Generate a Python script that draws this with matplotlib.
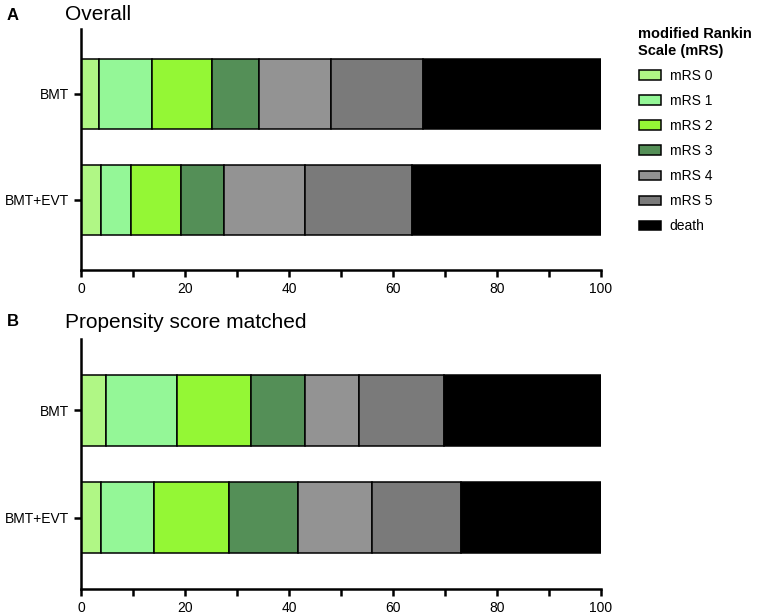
import matplotlib
matplotlib.use("Agg")
import matplotlib.pyplot as plt
from matplotlib.patches import Patch

plt.rcParams["font.family"] = ["Liberation Sans", "DejaVu Sans"]

GROUPS = ["BMT", "BMT+EVT"]
CATEGORIES = ["mRS 0", "mRS 1", "mRS 2", "mRS 3", "mRS 4", "mRS 5", "death"]
COLORS = ["#b0f785", "#94f797", "#94f735", "#548f57", "#939393", "#7a7a7a", "#000000"]

# percentages per mRS category
overall_bmt = [3.4, 10.2, 11.5, 9.2, 13.8, 17.7, 34.2]
overall_evt = [3.9, 5.8, 9.6, 8.2, 15.5, 20.7, 36.3]
matched_bmt = [4.9, 13.5, 14.3, 10.3, 10.4, 16.4, 30.2]
matched_evt = [3.9, 10.2, 14.3, 13.3, 14.2, 17.2, 26.9]

W, H = 765, 615
fig = plt.figure(figsize=(W / 100, H / 100), dpi=100)


def panel(rect, rows, ylim):
    ax = fig.add_axes(rect)
    ypos = [1, 0]
    for y, vals in zip(ypos, rows):
        left = 0
        for v, c in zip(vals, COLORS):
            ax.barh(y, v, left=left, height=0.66, color=c,
                    edgecolor="black", linewidth=1.1)
            left += v
    ax.set_xlim(0, 100)
    ax.set_ylim(*ylim)
    ax.set_yticks(ypos)
    ax.set_yticklabels(GROUPS, fontsize=10)
    ax.set_xticks(range(0, 101, 20))
    ax.set_xticks(range(10, 100, 20), minor=True)
    ax.tick_params(axis="x", labelsize=10, width=1.8, length=5, which="both")
    ax.tick_params(axis="y", width=1.8, length=5)
    for s in ["top", "right"]:
        ax.spines[s].set_visible(False)
    for s in ["left", "bottom"]:
        ax.spines[s].set_linewidth(1.8)
    return ax


panel([81 / W, 1 - 270 / H, 520 / W, 241 / H], [overall_bmt, overall_evt], (-0.66, 1.61))
panel([81 / W, 1 - 589 / H, 520 / W, 250 / H], [matched_bmt, matched_evt], (-0.66, 1.66))

fig.text(7 / W, 1 - 15 / H, "A", fontsize=12, fontweight="bold", va="center")
fig.text(65 / W, 1 - 15 / H, "Overall", fontsize=15, va="center")
fig.text(7 / W, 1 - 322 / H, "B", fontsize=12, fontweight="bold", va="center")
fig.text(65 / W, 1 - 322 / H, "Propensity score matched", fontsize=15, va="center")

handles = [Patch(facecolor=c, edgecolor="black", linewidth=1.1) for c in COLORS]
leg = fig.legend(handles, CATEGORIES, loc="upper left",
                 bbox_to_anchor=(626 / W, 1 - 15 / H), frameon=False,
                 fontsize=10, title="modified Rankin\nScale (mRS)",
                 title_fontproperties={"weight": "bold", "size": 10.5},
                 handlelength=1.65, handleheight=0.7, handletextpad=0.6,
                 labelspacing=0.8, alignment="left")

fig.savefig("out.png", dpi=100)
